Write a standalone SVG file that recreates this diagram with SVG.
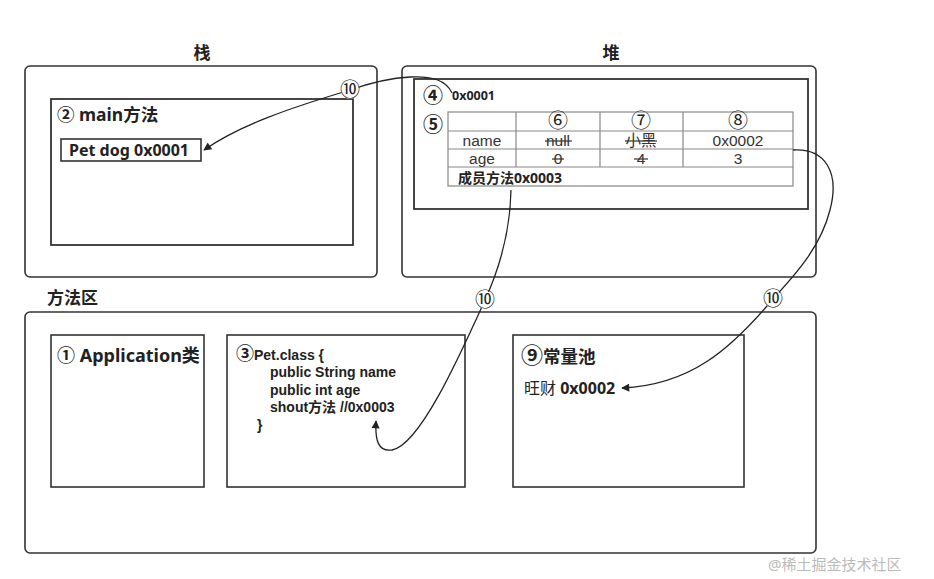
<svg xmlns="http://www.w3.org/2000/svg" width="934" height="579" viewBox="0 0 934 579">
<defs>
<marker id="arr" viewBox="0 0 10 10" refX="9" refY="5" markerWidth="11" markerHeight="8" markerUnits="userSpaceOnUse" orient="auto-start-reverse">
<path d="M0,0 L10,5 L0,10 z" fill="#222"/>
</marker>
<style>
text{font-family:"Noto Sans","Noto Sans CJK SC",sans-serif;fill:#222}
.b{font-weight:bold}
.box{fill:none;stroke:#333;stroke-width:1.6}
.inner{fill:none;stroke:#333;stroke-width:1.8}
.grid{stroke:#888;stroke-width:1.2;fill:none}
.cell{font-size:15.5px;fill:#333;text-anchor:middle;font-family:"Liberation Sans","Noto Sans CJK SC",sans-serif}
.circ{font-size:20px;text-anchor:middle;font-family:"Noto Sans CJK SC",sans-serif}
.conn{fill:none;stroke:#222;stroke-width:1.3}
.strike{stroke:#333;stroke-width:1.2}
.code{font-weight:bold;font-size:14px;font-family:"Liberation Sans","Noto Sans CJK SC",sans-serif}
</style>
</defs>
<rect width="934" height="579" fill="#fff"/>

<g id="stack">
<text x="202" y="59" class="b" font-size="17" text-anchor="middle">栈</text>
<rect x="25" y="66" width="352" height="211" rx="5" class="box"/>
</g>
<g id="main-method">
<rect x="51" y="99" width="302" height="146" class="inner"/>
<text x="57" y="121" class="b" font-size="17.5">② main方法</text>
</g>
<g id="pet-dog">
<rect x="61" y="139" width="140" height="22" fill="#fff" stroke="#333" stroke-width="1.6"/>
<text x="69" y="156" class="b" font-size="16">Pet dog 0x0001</text>
</g>

<g id="heap">
<text x="611" y="59" class="b" font-size="17" text-anchor="middle">堆</text>
<rect x="402" y="66" width="414" height="211" rx="5" class="box"/>
</g>
<g id="pet-object">
<rect x="414" y="79" width="394" height="130" class="inner"/>
<text x="433" y="103" class="circ b" font-size="24">④</text>
<text x="452" y="100" class="b" font-size="12.5">0x0001</text>
<text x="433" y="132" class="circ b" font-size="24">⑤</text>
<rect x="448" y="112" width="345" height="74" class="grid"/>
<line x1="448" y1="131" x2="793" y2="131" class="grid"/>
<line x1="448" y1="149" x2="793" y2="149" class="grid"/>
<line x1="448" y1="167" x2="793" y2="167" class="grid"/>
<line x1="516" y1="112" x2="516" y2="167" class="grid"/>
<line x1="600" y1="112" x2="600" y2="167" class="grid"/>
<line x1="683" y1="112" x2="683" y2="167" class="grid"/>
<text x="558" y="128" class="circ" font-size="17" fill="#333">⑥</text>
<text x="641" y="128" class="circ" font-size="17" fill="#333">⑦</text>
<text x="738" y="128" class="circ" font-size="17" fill="#333">⑧</text>
<text x="482" y="146" class="cell">name</text>
<text x="558" y="146" class="cell">null</text>
<line x1="545" y1="141" x2="572" y2="141" class="strike"/>
<text x="641" y="146" class="cell" font-family="Noto Sans CJK SC,sans-serif" font-size="14">小黑</text>
<line x1="625" y1="141" x2="657" y2="141" class="strike"/>
<text x="738" y="146" class="cell">0x0002</text>
<text x="482" y="164" class="cell">age</text>
<text x="558" y="164" class="cell">0</text>
<line x1="552" y1="159" x2="564" y2="159" class="strike"/>
<text x="641" y="164" class="cell">4</text>
<line x1="634" y1="159" x2="648" y2="159" class="strike"/>
<text x="738" y="164" class="cell">3</text>
<text x="458" y="183" class="b" font-size="14">成员方法0x0003</text>
</g>

<g id="method-area">
<text x="47" y="304" class="b" font-size="17">方法区</text>
<rect x="25" y="312" width="791" height="241" rx="5" class="box"/>
</g>
<g id="application">
<rect x="51" y="335" width="153" height="152" class="box"/>
<text x="57" y="362" class="b" font-size="18">① Application类</text>
</g>
<g id="pet-class">
<rect x="227" y="335" width="238" height="152" class="box"/>
<text x="236" y="360" class="code"><tspan font-size="18" font-family="Noto Sans CJK SC,sans-serif">③</tspan>Pet.class {</text>
<text x="270" y="377" class="code">public String name</text>
<text x="270" y="395" class="code">public int age</text>
<text x="270" y="412" class="code">shout方法 //0x0003</text>
<text x="257" y="430" class="code">}</text>
</g>
<g id="constant-pool">
<rect x="513" y="335" width="231" height="152" class="box"/>
<text x="521" y="363" class="b" font-size="17.5"><tspan font-size="22" font-family="Noto Sans CJK SC,sans-serif">⑨</tspan>常量池</text>
<text x="524" y="394" font-size="16"><tspan>旺财 </tspan><tspan class="b">0x0002</tspan></text>
</g>

<g id="connectors">
<path d="M452,93 C446,80 432,76 410,77 C390,78 370,83 350,90 C290,108 240,125 204,150" class="conn" marker-end="url(#arr)"/>
<path d="M511,190 C510,240 496,276 485,300 C460,355 420,445 392,450 C378,452 375,440 376,421" class="conn" marker-end="url(#arr)"/>
<path d="M793,150 C825,148 840,172 830,210 C820,250 790,280 773,299 C730,350 690,385 622,388" class="conn" marker-end="url(#arr)"/>
<g fill="#fff">
<circle cx="350" cy="90" r="9"/>
<circle cx="485" cy="300" r="9"/>
<circle cx="773" cy="299" r="9"/>
</g>
<text x="350" y="97" class="circ">⑩</text>
<text x="485" y="307" class="circ">⑩</text>
<text x="773" y="306" class="circ">⑩</text>
</g>

<text x="768" y="570" font-size="15" style="fill:#bbb" font-family="Noto Sans CJK SC,sans-serif">@稀土掘金技术社区</text>
</svg>
